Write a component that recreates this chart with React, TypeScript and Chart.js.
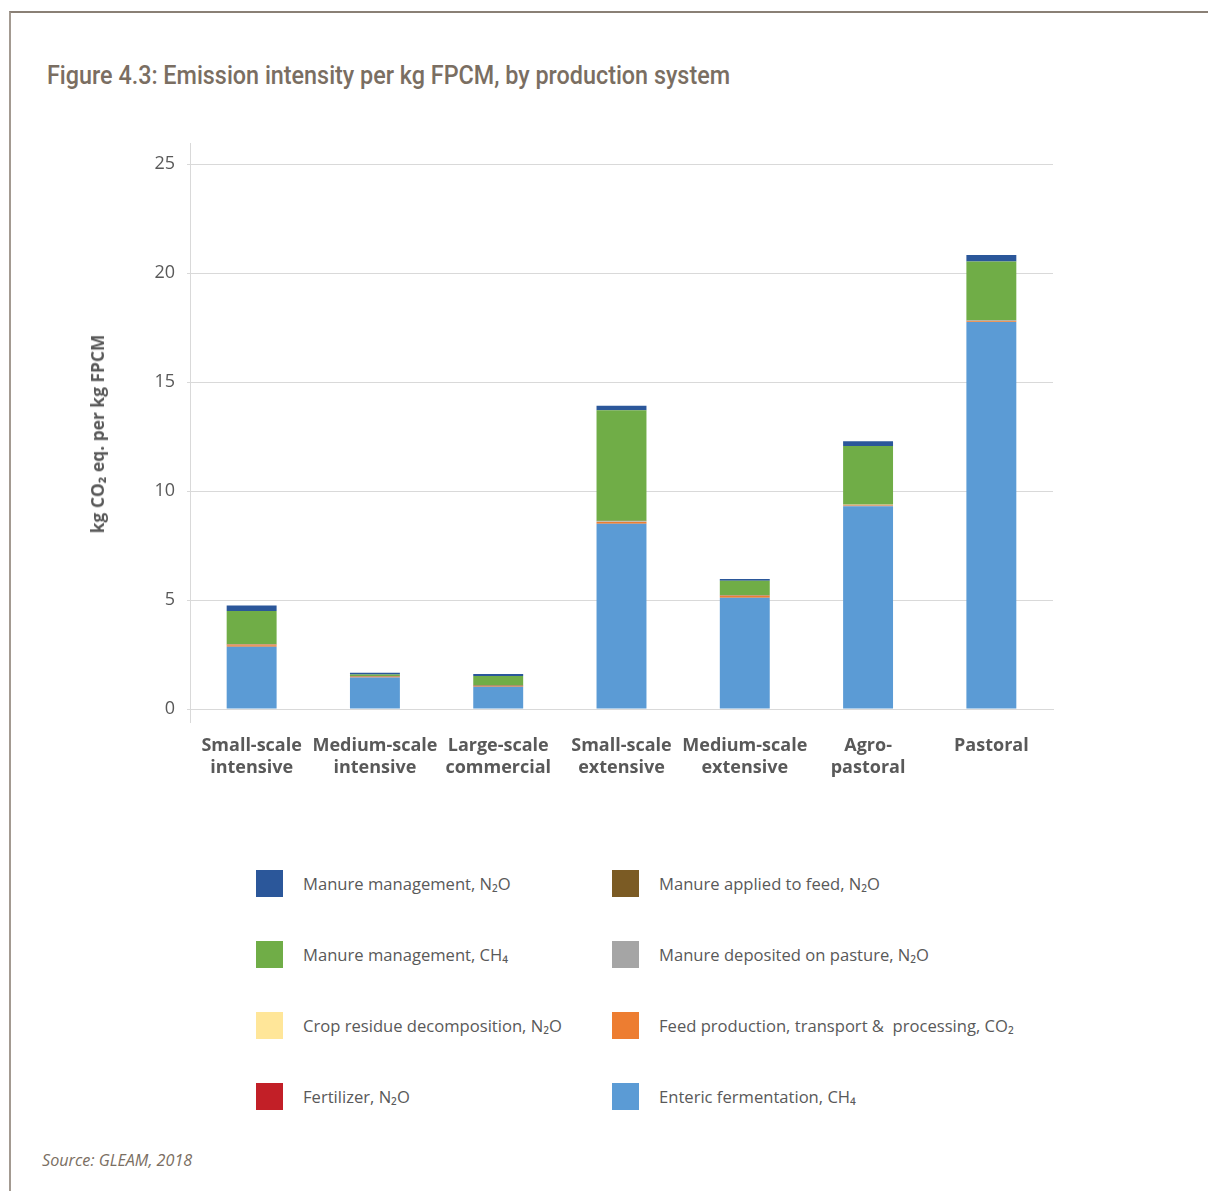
import React, { useEffect, useLayoutEffect, useRef } from "react";
import { Chart, registerables } from "chart.js";

Chart.register(...registerables);

// Production systems (x categories, multi-line labels)
const categories: string[][] = [
  ["Small-scale", "intensive"],
  ["Medium-scale", "intensive"],
  ["Large-scale", "commercial"],
  ["Small-scale", "extensive"],
  ["Medium-scale", "extensive"],
  ["Agro-", "pastoral"],
  ["Pastoral"],
];

// Emission intensity by source, kg CO2 eq. per kg FPCM
const entericCH4 = [2.85, 1.45, 1.02, 8.5, 5.1, 9.3, 17.75];
const feedCO2 = [0.08, 0.03, 0.04, 0.08, 0.1, 0.04, 0.04];
const pastureN2O = [0.01, 0.0, 0.0, 0.02, 0.01, 0.02, 0.03];
const cropResidueN2O = [0.01, 0.0, 0.0, 0.01, 0.0, 0.01, 0.0];
const fertilizerN2O = [0.01, 0.01, 0.01, 0.0, 0.0, 0.0, 0.0];
const manureFeedN2O = [0.02, 0.01, 0.01, 0.02, 0.02, 0.01, 0.01];
const manureCH4 = [1.52, 0.08, 0.43, 5.07, 0.65, 2.68, 2.7];
const manureN2O = [0.25, 0.08, 0.1, 0.21, 0.08, 0.22, 0.3];

const yTicks = [0, 5, 10, 15, 20, 25];

type Series = { key: string; label: string; color: string; data: number[] };

// Stacking order, bottom to top
const series: Series[] = [
  { key: "enteric", label: "Enteric fermentation, CH₄", color: "#5b9bd5", data: entericCH4 },
  { key: "feed", label: "Feed production, transport &  processing, CO₂", color: "#ed7d31", data: feedCO2 },
  { key: "pasture", label: "Manure deposited on pasture, N₂O", color: "#a5a5a5", data: pastureN2O },
  { key: "crop", label: "Crop residue decomposition, N₂O", color: "#ffe699", data: cropResidueN2O },
  { key: "fert", label: "Fertilizer, N₂O", color: "#c21f27", data: fertilizerN2O },
  { key: "applied", label: "Manure applied to feed, N₂O", color: "#7b5b24", data: manureFeedN2O },
  { key: "mmch4", label: "Manure management, CH₄", color: "#70ad47", data: manureCH4 },
  { key: "mmn2o", label: "Manure management, N₂O", color: "#2b579a", data: manureN2O },
];

// Legend columns, top to bottom
const legendLeft = ["mmn2o", "mmch4", "crop", "fert"];
const legendRight = ["applied", "pasture", "feed", "enteric"];

const GRID = "#d9d9d9";
const TEXT = "#595959";
const FONT = "'Open Sans', 'DejaVu Sans', sans-serif";
const TITLE_WIDTH = 683;

// Extends the value axis line a little above the top gridline and below the base
const axisExtension = {
  id: "axisExtension",
  afterDraw(chart: any) {
    const { ctx, chartArea } = chart;
    ctx.save();
    ctx.strokeStyle = GRID;
    ctx.lineWidth = 1;
    ctx.beginPath();
    ctx.moveTo(chartArea.left + 0.5, chartArea.top - 21);
    ctx.lineTo(chartArea.left + 0.5, chartArea.bottom + 14);
    ctx.stroke();
    ctx.restore();
  },
};

function LegendItem({ s, x, y }: { s: Series; x: number; y: number }) {
  return (
    <div style={{ position: "absolute", left: x, top: y, height: 27, display: "flex", alignItems: "center" }}>
      <div style={{ width: 27, height: 27, background: s.color, flex: "none" }} />
      <span style={{ marginLeft: 20, fontFamily: FONT, fontSize: 16.6, color: TEXT, whiteSpace: "pre" }}>{s.label}</span>
    </div>
  );
}

export default function App() {
  const canvasRef = useRef<HTMLCanvasElement | null>(null);
  const titleRef = useRef<HTMLSpanElement | null>(null);

  // Condense the heading horizontally to its column width
  useLayoutEffect(() => {
    const el = titleRef.current;
    if (!el) return;
    el.style.transform = "none";
    const w = el.getBoundingClientRect().width;
    if (w > 0) el.style.transform = `scaleX(${TITLE_WIDTH / w})`;
  }, []);

  useEffect(() => {
    document.body.style.margin = "0";
    const canvas = canvasRef.current;
    if (!canvas) return;
    const chart = new Chart(canvas, {
      type: "bar",
      data: {
        labels: categories,
        datasets: series.map((s) => ({
          label: s.label,
          data: s.data,
          backgroundColor: s.color,
          borderWidth: 0,
          barPercentage: 0.405,
          categoryPercentage: 1,
        })),
      },
      plugins: [axisExtension],
      options: {
        responsive: false,
        animation: false,
        devicePixelRatio: 1,
        layout: { padding: { left: 80, right: 155, top: 164, bottom: 11 } },
        plugins: {
          legend: { display: false },
          tooltip: { enabled: false },
          title: { display: false },
        },
        scales: {
          x: {
            stacked: true,
            grid: { display: false, drawTicks: false },
            border: { display: true, color: GRID, width: 1 },
            ticks: {
              color: TEXT,
              font: { family: FONT, size: 18, weight: "bold", lineHeight: 1.22 },
              padding: 26,
              maxRotation: 0,
              autoSkip: false,
            },
            afterFit: (scale: any) => {
              scale.height = 80;
            },
          },
          y: {
            stacked: true,
            min: 0,
            max: 25,
            afterBuildTicks: (scale: any) => {
              scale.ticks = yTicks.map((v) => ({ value: v }));
            },
            grid: { color: GRID, lineWidth: 1, drawTicks: true, tickLength: 3 },
            border: { display: true, color: GRID, width: 1 },
            ticks: {
              color: TEXT,
              font: { family: FONT, size: 18 },
              padding: 12,
            },
            afterFit: (scale: any) => {
              scale.width = 110;
            },
          },
        },
      },
    } as any);
    return () => chart.destroy();
  }, []);

  const byKey = (k: string) => series.find((s) => s.key === k)!;
  const rowTops = [870, 941, 1012, 1083];

  return (
    <div style={{ position: "absolute", left: 0, top: 0, width: 1208, height: 1191, background: "#fff", overflow: "hidden" }}>
      <div
        style={{
          position: "absolute",
          left: 9,
          top: 11,
          width: 1220,
          height: 1200,
          borderTop: "2px solid #8a8076",
          borderLeft: "2px solid #a39a91",
        }}
      />
      <div style={{ position: "absolute", left: 47, top: 57, whiteSpace: "nowrap", lineHeight: "36px" }}>
        <span
          ref={titleRef}
          style={{
            display: "inline-block",
            transformOrigin: "left center",
            fontFamily: "'Roboto', 'Noto Sans', sans-serif",
            fontWeight: 500,
            fontSize: 26,
            color: "#7a6e62",
          }}
        >
          Figure 4.3: Emission intensity per kg FPCM, by production system
        </span>
      </div>
      <canvas ref={canvasRef} width={1208} height={800} style={{ position: "absolute", left: 0, top: 0, width: 1208, height: 800 }} />
      <div
        style={{
          position: "absolute",
          left: 97,
          top: 434,
          transform: "translate(-50%, -50%) rotate(-90deg)",
          fontFamily: FONT,
          fontWeight: "bold",
          fontSize: 17.4,
          color: TEXT,
          whiteSpace: "nowrap",
        }}
      >
        kg CO₂ eq. per kg FPCM
      </div>
      {legendLeft.map((k, i) => (
        <LegendItem key={k} s={byKey(k)} x={256} y={rowTops[i]} />
      ))}
      {legendRight.map((k, i) => (
        <LegendItem key={k} s={byKey(k)} x={612} y={rowTops[i]} />
      ))}
      <div
        style={{
          position: "absolute",
          left: 42,
          top: 1149,
          fontFamily: FONT,
          fontStyle: "italic",
          fontSize: 16.2,
          color: "#7a6e62",
          whiteSpace: "nowrap",
        }}
      >
        Source: GLEAM, 2018
      </div>
    </div>
  );
}
